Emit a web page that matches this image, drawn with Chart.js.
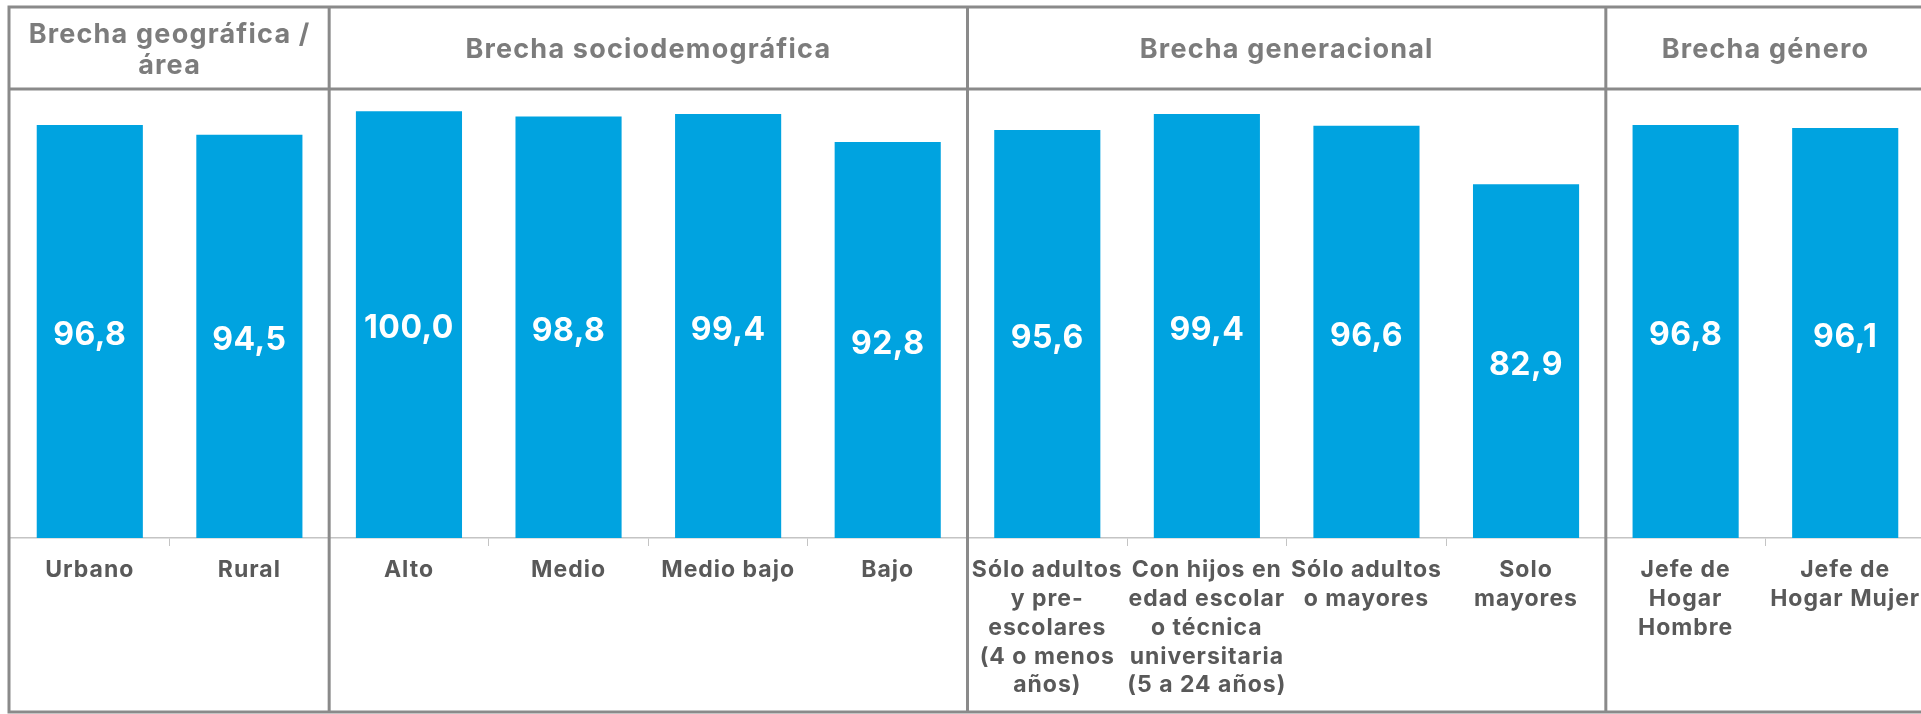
<!DOCTYPE html>
<html lang="es">
<head>
<meta charset="utf-8">
<title>Brechas</title>
<script src="https://cdn.jsdelivr.net/npm/chart.js@4/dist/chart.umd.min.js"></script>
<style>
  html, body { margin: 0; padding: 0; background: #fff; overflow: hidden; }
  #wrap { position: relative; width: 1925px; height: 714px; }
</style>
</head>
<body>
<div id="wrap"><canvas id="brechas" width="1925" height="714"></canvas></div>
<script>
  // categorías (cada elemento es una lista de líneas)
  const categorias = [
    ['Urbano'],
    ['Rural'],
    ['Alto'],
    ['Medio'],
    ['Medio bajo'],
    ['Bajo'],
    ['Sólo adultos', 'y pre-', 'escolares', '(4 o menos', 'años)'],
    ['Con hijos en', 'edad escolar', 'o técnica', 'universitaria', '(5 a 24 años)'],
    ['Sólo adultos', 'o mayores'],
    ['Solo', 'mayores'],
    ['Jefe de', 'Hogar', 'Hombre'],
    ['Jefe de', 'Hogar Mujer']
  ]
  const valores = [96.8, 94.5, 100.0, 98.8, 99.4, 92.8, 95.6, 99.4, 96.6, 82.9, 96.8, 96.1]

  // encabezados de grupo y cuántas columnas abarca cada uno
  const grupos = [
    ['Brecha geográfica /', 'área'],
    ['Brecha sociodemográfica'],
    ['Brecha generacional'],
    ['Brecha género']
  ]
  const columnasPorGrupo = [2, 4, 4, 2]

  const FUENTE = 'Inter, "Open Sans", sans-serif'
  const AZUL = '#00a3e0'
  const GRIS_MARCO = '#8a8a8a'

  // un poco de aire entre letras para todo el texto del gráfico
  const espaciado = {
    id: 'espaciado',
    beforeDraw (chart) {
      chart.ctx.letterSpacing = '1px'
    }
  }

  // marco tipo tabla con los encabezados de cada brecha
  const marcoTabla = {
    id: 'marcoTabla',
    afterDraw (chart) {
      const { ctx, chartArea, scales } = chart
      const x = scales.x
      const paso = x.getPixelForValue(1) - x.getPixelForValue(0)
      const borde = (i) => x.getPixelForValue(i) - paso / 2
      const arriba = 7
      const lineaEnc = 89
      const abajo = 712

      ctx.save()
      ctx.strokeStyle = GRIS_MARCO
      ctx.lineWidth = 3
      ctx.beginPath()
      ctx.moveTo(chartArea.left - 1, arriba)
      ctx.lineTo(chart.width, arriba)
      ctx.moveTo(chartArea.left - 1, lineaEnc)
      ctx.lineTo(chart.width, lineaEnc)
      ctx.moveTo(chartArea.left - 1, abajo)
      ctx.lineTo(chart.width, abajo)

      let col = 0
      const cortes = [0]
      columnasPorGrupo.forEach(n => { col += n; cortes.push(col) })
      cortes.forEach((c, i) => {
        const px = i === 0 ? chartArea.left - 1 : borde(c)
        ctx.moveTo(px, arriba - 1.5)
        ctx.lineTo(px, abajo + 1.5)
      })
      ctx.stroke()

      ctx.fillStyle = '#7c7c7c'
      ctx.font = `bold 27px ${FUENTE}`
      ctx.letterSpacing = '1.2px'
      ctx.textAlign = 'center'
      ctx.textBaseline = 'middle'
      const centroY = 50
      const alto = 31
      grupos.forEach((lineas, i) => {
        const cx = (borde(cortes[i]) + borde(cortes[i + 1])) / 2
        const y0 = centroY - (lineas.length - 1) * alto / 2
        lineas.forEach((t, k) => ctx.fillText(t, cx, y0 + k * alto))
      })
      ctx.restore()
    }
  }

  // valor de cada barra, centrado dentro de ella
  const etiquetasValor = {
    id: 'etiquetasValor',
    afterDatasetsDraw (chart) {
      const { ctx } = chart
      const meta = chart.getDatasetMeta(0)
      ctx.save()
      ctx.fillStyle = '#ffffff'
      ctx.font = `bold 32px ${FUENTE}`
      ctx.letterSpacing = '0.5px'
      ctx.textAlign = 'center'
      ctx.textBaseline = 'middle'
      meta.data.forEach((barra, i) => {
        const texto = valores[i].toFixed(1).replace('.', ',')
        ctx.fillText(texto, barra.x, (barra.y + barra.base) / 2 + 4)
      })
      ctx.restore()
    }
  }

  const ctx = document.getElementById('brechas')
  // eslint-disable-next-line no-unused-vars
  const grafico = new Chart(ctx, {
    type: 'bar',
    data: {
      labels: categorias,
      datasets: [{
        data: valores,
        backgroundColor: AZUL,
        borderWidth: 0,
        categoryPercentage: 1,
        barPercentage: 0.665
      }]
    },
    plugins: [espaciado, marcoTabla, etiquetasValor],
    options: {
      responsive: false,
      devicePixelRatio: 1,
      animation: false,
      layout: {
        padding: { top: 90, left: 10, right: 0, bottom: 0 }
      },
      plugins: {
        legend: { display: false },
        tooltip: { enabled: false }
      },
      scales: {
        x: {
          grid: {
            display: true,
            drawOnChartArea: false,
            drawTicks: true,
            tickLength: 8,
            color: '#c4c4c4',
            offset: true
          },
          border: { color: '#c4c4c4', width: 1.5 },
          ticks: {
            color: '#595959',
            font: { family: FUENTE, size: 23, weight: 'bold', lineHeight: 1.25 },
            padding: 10,
            maxRotation: 0,
            autoSkip: false
          },
          afterFit (scale) {
            scale.paddingLeft = 0
            scale.paddingRight = 0
            scale.height = 176
          }
        },
        y: {
          display: false,
          min: 0,
          max: 105
        }
      }
    }
  })
</script>
</body>
</html>
